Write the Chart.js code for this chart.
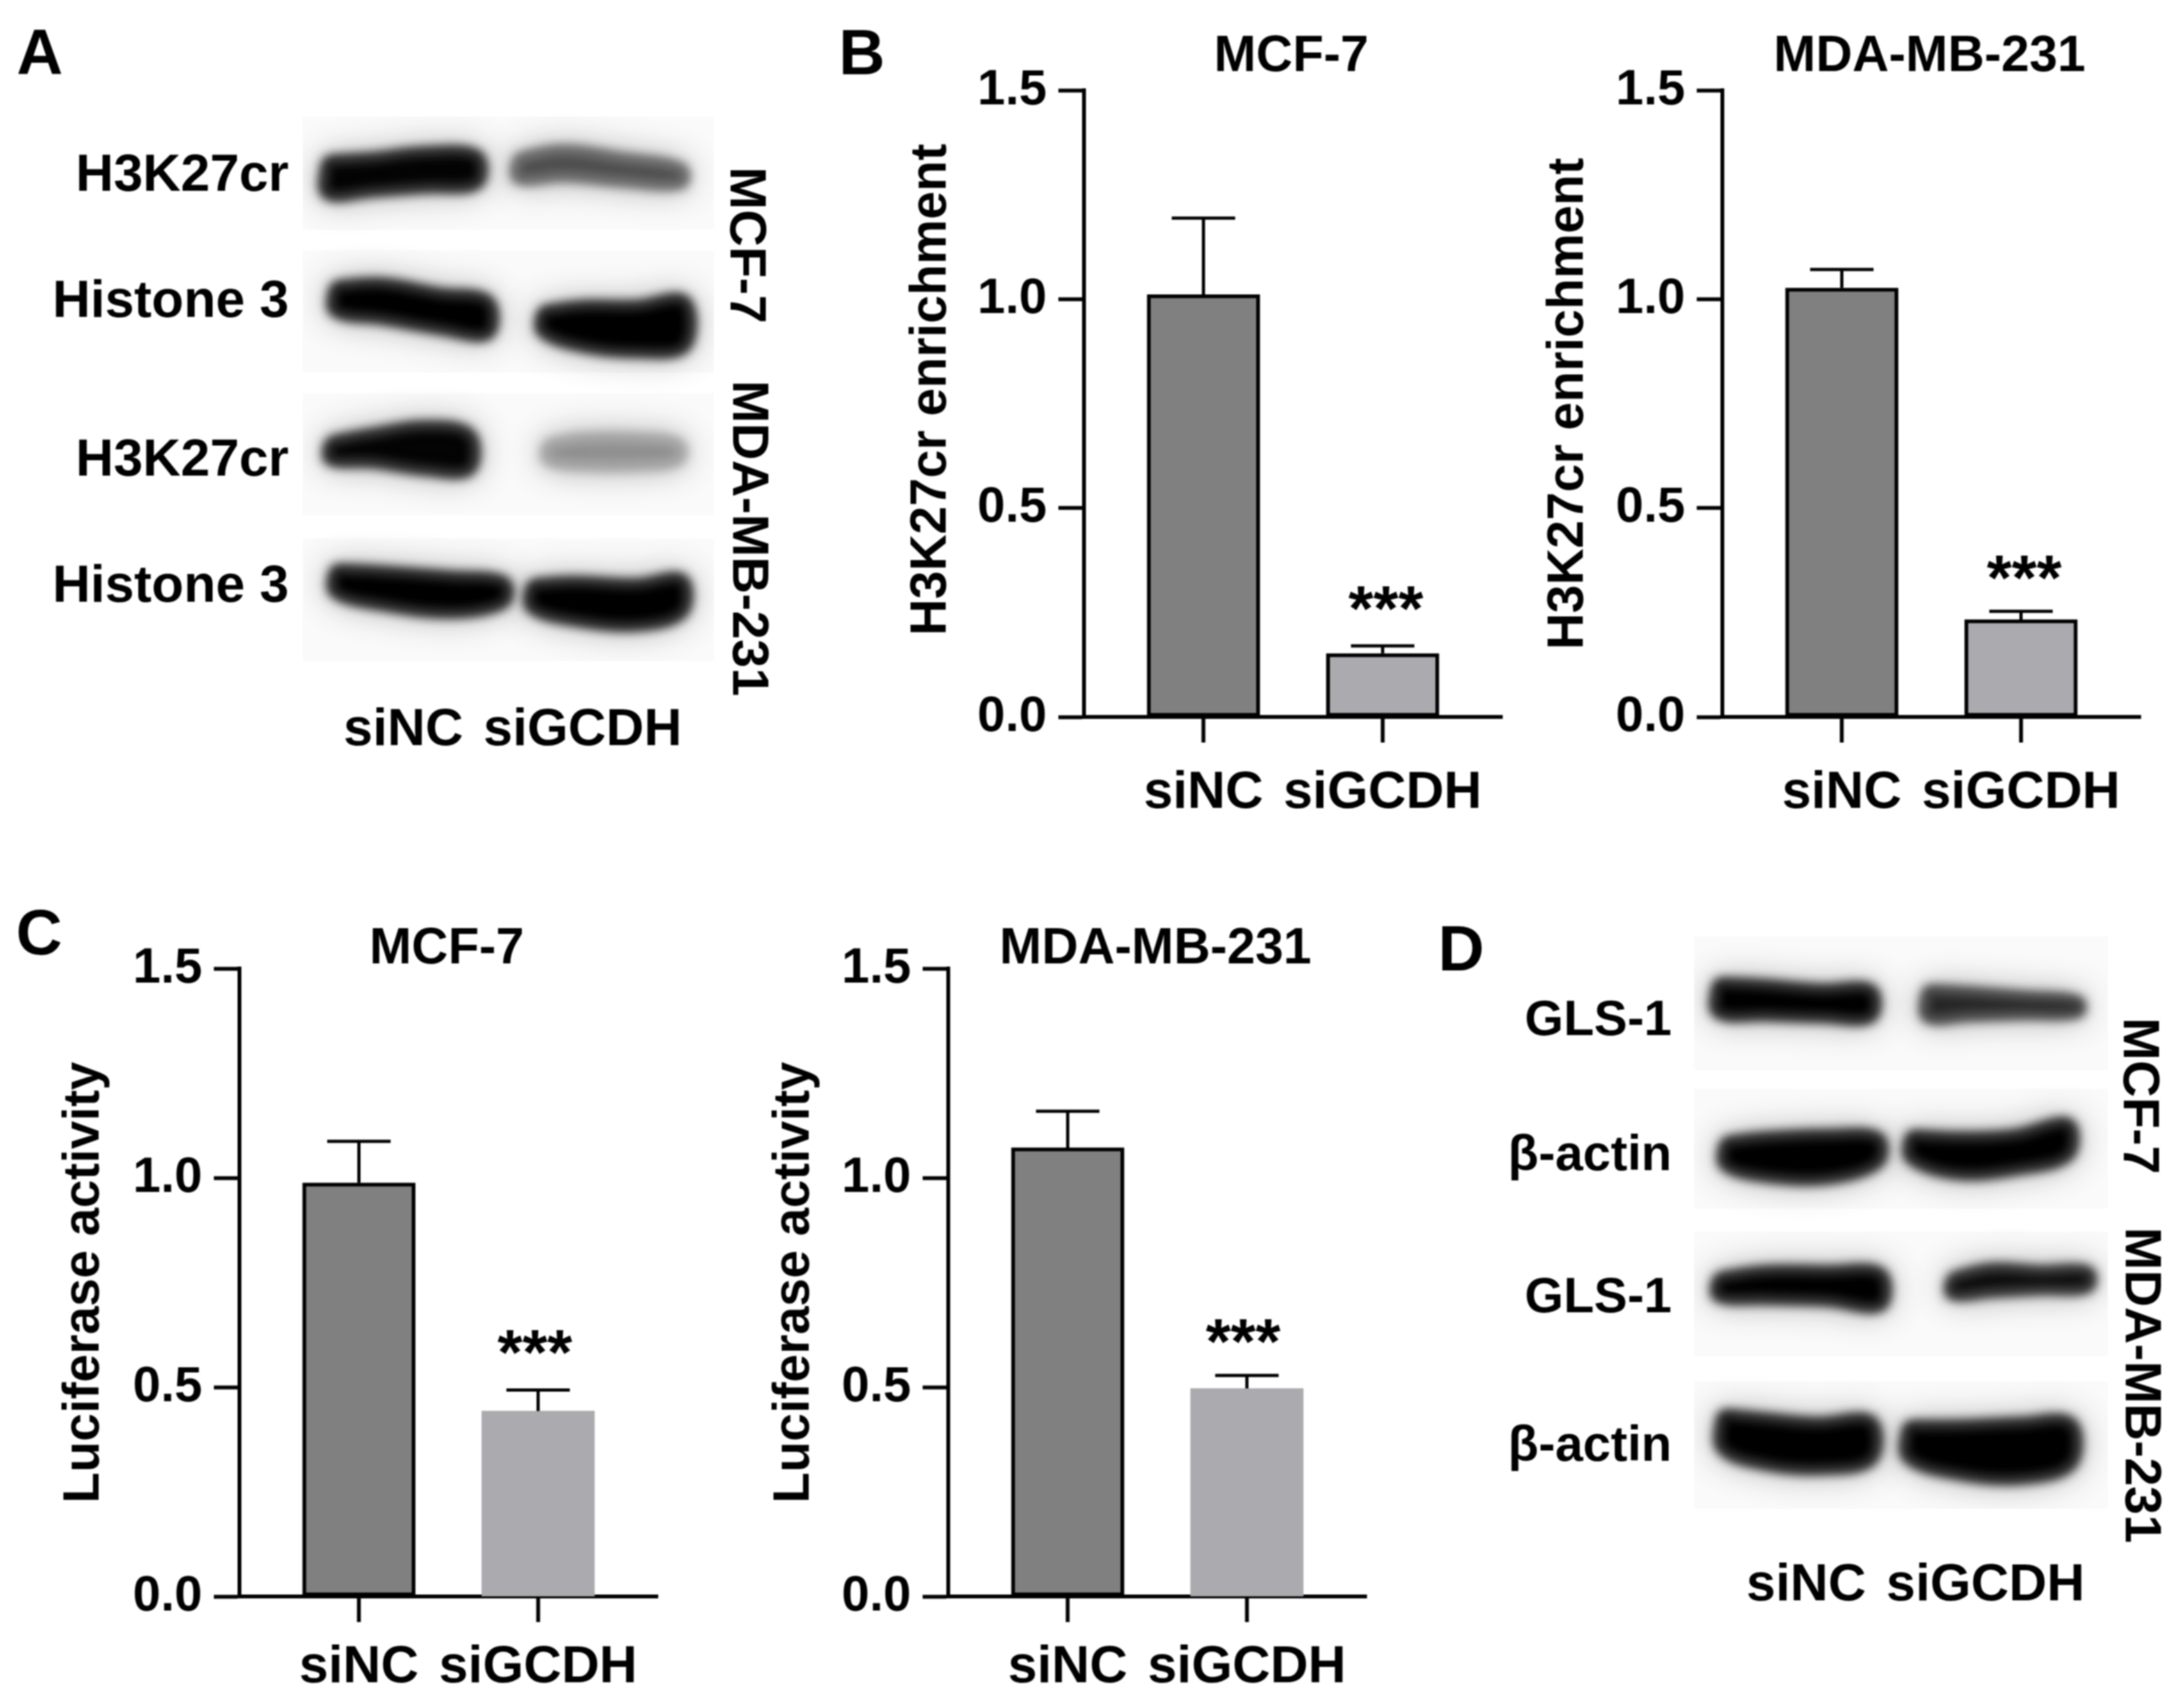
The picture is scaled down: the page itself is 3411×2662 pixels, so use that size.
<!DOCTYPE html>
<html>
<head>
<meta charset="utf-8">
<title>H3K27cr and luciferase panels</title>
<script src="https://cdn.jsdelivr.net/npm/chart.js@4"></script>
<style>
    html, body { margin: 0; padding: 0; background: #fff; }
    body { position: relative; width: 3411px; height: 2662px; overflow: hidden; }
    canvas { position: absolute; filter: blur(0.8px); }
    .letter { position: absolute; font: bold 100px/1 "Liberation Sans", Arial, sans-serif; color: #000; filter: blur(0.8px); }
</style>
</head>
<body>
<div class="letter" style="left:26px;top:31px">A</div>
<div class="letter" style="left:1310px;top:31px">B</div>
<div class="letter" style="left:25px;top:1406px">C</div>
<div class="letter" style="left:2246px;top:1431px">D</div>
<script>
const FONT = '"Liberation Sans", Arial, sans-serif'
const BAR_DARK = '#808080'
const BAR_LIGHT = '#ababaf'

const categories = ['siNC', 'siGCDH']
const yTicks = [0, 0.5, 1.0, 1.5]

// bar heights and top of the error bars
const b1Means = [1.011, 0.152]
const b1Upper = [1.194, 0.170]
const b2Means = [1.027, 0.233]
const b2Upper = [1.071, 0.253]
const c1Means = [0.988, 0.443]
const c1Upper = [1.087, 0.493]
const c2Means = [1.072, 0.497]
const c2Upper = [1.159, 0.528]

// where "***" sits: [x on the x scale, y on the value scale]
const b1Stars = [1.018, 0.282]
const b2Stars = [1.018, 0.355]
const c1Stars = [0.982, 0.606]
const c2Stars = [0.979, 0.631]

// blot A, in pixels from the top left corner of the blot
const blotARows = ['H3K27cr', 'Histone 3', 'H3K27cr', 'Histone 3']
const blotARowY = [93, 290, 538, 735]
const blotALaneX = [157, 437]
const blotAStrips = [[0, 177], [209, 400], [432, 623], [659, 851]]
const blotAShades = ['#040404', '#555555', '#000000', '#000000', '#040404', '#9c9c9c', '#000000', '#000000']
const blotAX = [
    [37, 107, 190, 273], [335, 406, 497, 592],
    [49, 124, 215, 290], [373, 439, 522, 597],
    [41, 107, 190, 261], [381, 439, 522, 588],
    [49, 124, 232, 315], [356, 423, 522, 593],
]
const blotATop = [
    [69, 65, 56, 61], [65, 53, 65, 81],
    [265, 261, 277, 288], [304, 296, 296, 288],
    [508, 496, 484, 496], [512, 504, 504, 512],
    [707, 711, 719, 727], [731, 727, 731, 723],
]
const blotABottom = [
    [121, 117, 111, 105], [97, 93, 101, 105],
    [304, 316, 332, 340], [336, 360, 368, 360],
    [536, 540, 552, 552], [536, 544, 544, 536],
    [743, 763, 775, 759], [767, 787, 795, 775],
]

// blot D, same units
const blotDRows = ['GLS-1', 'β-actin', 'GLS-1', 'β-actin']
const blotDRowY = [132, 343, 565, 797]
const blotDLaneX = [175, 455]
const blotDStrips = [[0, 209], [238, 425], [461, 656], [695, 894]]
const blotDShades = ['#000000', '#2a2a2a', '#000000', '#000000', '#000000', '#0c0c0c', '#000000', '#000000']
const blotDX = [
    [36, 111, 201, 277], [363, 427, 518, 601],
    [47, 111, 209, 288], [337, 412, 502, 585],
    [36, 111, 209, 292], [401, 465, 540, 616],
    [43, 111, 194, 277], [333, 412, 510, 589],
]
const blotDTop = [
    [72, 76, 83, 83], [83, 87, 94, 101],
    [321, 314, 310, 314], [310, 314, 310, 292],
    [533, 523, 523, 526], [533, 519, 523, 523],
    [746, 753, 760, 757], [764, 764, 760, 760],
]
const blotDBottom = [
    [119, 123, 126, 126], [126, 124, 121, 119],
    [357, 375, 378, 353], [346, 371, 364, 342],
    [562, 566, 569, 577], [559, 555, 551, 548],
    [800, 825, 832, 818], [814, 840, 847, 825],
]

function addCanvas(left, top, width, height) {
    let canvas = document.createElement('canvas')
    canvas.width = width
    canvas.height = height
    canvas.style.left = left + 'px'
    canvas.style.top = top + 'px'
    document.body.appendChild(canvas)
    return canvas.getContext('2d')
}

function drawText(ctx, text, x, y, size, angle, baseline) {
    ctx.save()
    ctx.translate(x, y)
    ctx.rotate(angle || 0)
    ctx.font = 'bold ' + size + 'px ' + FONT
    ctx.fillStyle = '#000'
    ctx.textAlign = 'center'
    ctx.textBaseline = baseline || 'middle'
    ctx.fillText(text, 0, 0)
    ctx.restore()
}

// error bars, panel title and the stars, placed through the chart's scales
const barExtras = {
    id: 'barExtras',
    afterDatasetsDraw(chart, args, opts) {
        const ctx = chart.ctx
        const x = chart.scales.x
        const y = chart.scales.y
        ctx.save()
        ctx.strokeStyle = '#000'
        ctx.lineWidth = 5
        opts.upper.forEach((top, i) => {
            const px = x.getPixelForValue(i)
            const half = (x.getPixelForValue(0.354) - x.getPixelForValue(0)) / 2
            ctx.beginPath()
            ctx.moveTo(px, y.getPixelForValue(opts.means[i]))
            ctx.lineTo(px, y.getPixelForValue(top))
            ctx.moveTo(px - half, y.getPixelForValue(top))
            ctx.lineTo(px + half, y.getPixelForValue(top))
            ctx.stroke()
        })
        ctx.restore()
        drawText(ctx, '***', x.getPixelForValue(opts.stars[0]), y.getPixelForValue(opts.stars[1]) + 49, 100, 0, 'alphabetic')
        drawText(ctx, opts.title, x.getPixelForValue(0.49), y.getPixelForValue(opts.titleY), 79)
    },
}

function drawBarPanel(left, top, width, height, axisX, axisTop, axisBottom, cfg) {
    const ctx = addCanvas(left, top, width, height)
    new Chart(ctx, {
        type: 'bar',
        data: {
            datasets: [{
                data: cfg.means.map((v, i) => ({ x: i, y: v })),
                backgroundColor: [BAR_DARK, BAR_LIGHT],
                borderColor: '#000',
                borderWidth: [6, cfg.lightBorder ? 6 : 0],
                borderSkipped: false,
                barThickness: 176,
            }],
        },
        options: {
            responsive: false,
            animation: false,
            devicePixelRatio: 1,
            layout: {
                autoPadding: false,
                padding: { top: axisTop - top, right: width - cfg.plotWidth - (axisX - left), left: 0, bottom: 0 },
            },
            scales: {
                x: {
                    type: 'linear',
                    offset: false,
                    min: -2 / 3,
                    max: 5 / 3,
                    afterBuildTicks: (s) => { s.ticks = categories.map((c, i) => ({ value: i })) },
                    afterFit: (s) => { s.height = top + height - axisBottom },
                    ticks: {
                        autoSkip: false,
                        maxRotation: 0,
                        padding: cfg.labelPad,
                        color: '#000',
                        font: { family: FONT, weight: 'bold', size: 82 },
                        callback: (v) => categories[v],
                    },
                    grid: { offset: false, drawOnChartArea: false, tickLength: 40, tickWidth: 6, tickColor: '#000' },
                    border: { display: true, color: '#000', width: 6 },
                },
                y: {
                    min: 0,
                    max: 1.5,
                    afterBuildTicks: (s) => { s.ticks = yTicks.map((v) => ({ value: v })) },
                    afterFit: (s) => { s.width = axisX - left },
                    ticks: {
                        padding: 18,
                        color: '#000',
                        font: { family: FONT, weight: 'bold', size: 78 },
                        callback: (v) => v.toFixed(1),
                    },
                    grid: { drawOnChartArea: false, tickLength: 40, tickWidth: 6, tickColor: '#000' },
                    border: { display: true, color: '#000', width: 6 },
                    title: {
                        display: true,
                        text: cfg.yTitle,
                        color: '#000',
                        padding: 0,
                        font: { family: FONT, weight: 'bold', size: 79 },
                    },
                },
            },
            plugins: {
                legend: { display: false },
                tooltip: { enabled: false },
                barExtras: { means: cfg.means, upper: cfg.upper, stars: cfg.stars, title: cfg.title, titleY: cfg.titleY },
            },
        },
        plugins: [barExtras],
    })
}

// strips behind the bands, then a blurred pass for the bands themselves
const blotLook = {
    id: 'blotLook',
    beforeDatasetsDraw(chart, args, opts) {
        const ctx = chart.ctx
        const x = chart.scales.x
        const y = chart.scales.y
        ctx.fillStyle = '#fafafa'
        opts.strips.forEach((s) => {
            ctx.fillRect(x.getPixelForValue(0), y.getPixelForValue(s[0]), x.getPixelForValue(x.max) - x.getPixelForValue(0), y.getPixelForValue(s[1]) - y.getPixelForValue(s[0]))
        })
        ctx.save()
        ctx.filter = 'blur(9px)'
        ctx.shadowColor = 'rgba(0,0,0,0.3)'
        ctx.shadowBlur = 50
    },
    afterDatasetsDraw(chart, args, opts) {
        chart.ctx.restore()
        const x = chart.scales.x
        const y = chart.scales.y
        opts.sideLabels.forEach((l) => {
            drawText(chart.ctx, l[0], x.getPixelForValue(l[1]), y.getPixelForValue(l[2]), 80, Math.PI / 2)
        })
    },
}

function bandOutline(xs, tops, bottoms) {
    const upper = xs.map((x, i) => ({ x: x, y: tops[i] }))
    const lower = xs.map((x, i) => ({ x: x, y: bottoms[i] })).reverse()
    return upper.concat(lower, [upper[0]])
}

function drawBlot(left, top, width, height, plot, cfg) {
    const ctx = addCanvas(left, top, width, height)
    new Chart(ctx, {
        type: 'scatter',
        data: {
            datasets: cfg.xs.map((xs, i) => ({
                data: bandOutline(xs, cfg.tops[i], cfg.bottoms[i]),
                showLine: true,
                fill: 'shape',
                tension: 0.35,
                borderWidth: 12,
                borderColor: cfg.shades[i],
                pointRadius: 0,
                backgroundColor: cfg.shades[i],
            })),
        },
        options: {
            responsive: false,
            animation: false,
            devicePixelRatio: 1,
            layout: {
                autoPadding: false,
                padding: { top: plot.top - top, right: left + width - plot.right, left: 0, bottom: 0 },
            },
            scales: {
                x: {
                    min: 0,
                    max: plot.right - plot.left,
                    afterBuildTicks: (s) => { s.ticks = cfg.laneX.map((v) => ({ value: v })) },
                    afterFit: (s) => { s.height = top + height - plot.bottom },
                    ticks: {
                        z: 1,
                        autoSkip: false,
                        maxRotation: 0,
                        padding: cfg.lanePad,
                        color: '#000',
                        font: { family: FONT, weight: 'bold', size: 82 },
                        callback: (v) => categories[cfg.laneX.indexOf(v)],
                    },
                    grid: { display: false },
                    border: { display: false },
                },
                y: {
                    reverse: true,
                    min: 0,
                    max: plot.bottom - plot.top,
                    afterBuildTicks: (s) => { s.ticks = cfg.rowY.map((v) => ({ value: v })) },
                    afterFit: (s) => { s.width = plot.left - left },
                    ticks: {
                        z: 1,
                        autoSkip: false,
                        padding: cfg.rowPad,
                        color: '#000',
                        font: { family: FONT, weight: 'bold', size: cfg.rowFont },
                        callback: (v) => cfg.rows[cfg.rowY.indexOf(v)],
                    },
                    grid: { display: false },
                    border: { display: false },
                },
            },
            plugins: {
                legend: { display: false },
                tooltip: { enabled: false },
                blotLook: { strips: cfg.strips, sideLabels: cfg.sideLabels },
            },
        },
        plugins: [blotLook],
    })
}

drawBlot(0, 0, 1230, 1230, { left: 473, right: 1115, top: 182, bottom: 1033 }, {
    xs: blotAX, tops: blotATop, bottoms: blotABottom, shades: blotAShades,
    strips: blotAStrips, rows: blotARows, rowY: blotARowY, laneX: blotALaneX,
    rowPad: 14, rowFont: 82, lanePad: 51,
    sideLabels: [['MCF-7', 690, 201], ['MDA-MB-231', 694, 659]],
})

drawBlot(2320, 1300, 1091, 1260, { left: 2646, right: 3292, top: 1463, bottom: 2357 }, {
    xs: blotDX, tops: blotDTop, bottoms: blotDBottom, shades: blotDShades,
    strips: blotDStrips, rows: blotDRows, rowY: blotDRowY, laneX: blotDLaneX,
    rowPad: 27, rowFont: 78, lanePad: 63,
    sideLabels: [['MCF-7', 693, 249], ['MDA-MB-231', 696, 701]],
})

drawBarPanel(1408, 0, 974, 1300, 1693, 141, 1120, {
    means: b1Means, upper: b1Upper, stars: b1Stars, lightBorder: true, plotWidth: 653, labelPad: 30,
    title: 'MCF-7', titleY: 1.58, yTitle: '  H3K27cr enrichment',
})
drawBarPanel(2403, 0, 977, 1300, 2690, 141, 1120, {
    means: b2Means, upper: b2Upper, stars: b2Stars, lightBorder: true, plotWidth: 653, labelPad: 30,
    title: 'MDA-MB-231', titleY: 1.58, yTitle: 'H3K27cr enrichment',
})
drawBarPanel(85, 1420, 976, 1242, 374, 1513, 2494, {
    means: c1Means, upper: c1Upper, stars: c1Stars, lightBorder: false, plotWidth: 653, labelPad: 22,
    title: 'MCF-7', titleY: 1.545, yTitle: 'Luciferase activity',
})
drawBarPanel(1194, 1420, 975, 1242, 1481, 1513, 2494, {
    means: c2Means, upper: c2Upper, stars: c2Stars, lightBorder: false, plotWidth: 653, labelPad: 22,
    title: 'MDA-MB-231', titleY: 1.545, yTitle: 'Luciferase activity',
})
</script>
</body>
</html>
